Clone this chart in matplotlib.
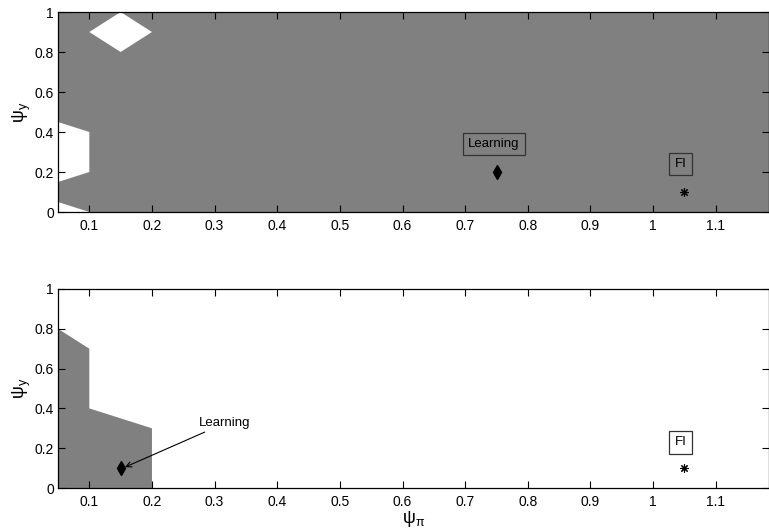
import matplotlib
matplotlib.use("Agg")
import matplotlib.pyplot as plt
from matplotlib.patches import Polygon

plt.rcParams['font.family'] = ['Liberation Sans', 'DejaVu Sans']
plt.rcParams['mathtext.fontset'] = 'custom'
plt.rcParams['mathtext.rm'] = 'Liberation Sans'

# ---------------- data ----------------
x_range = [0.05, 1.185]
y_range = [0.0, 1.0]
x_ticks = [0.1, 0.2, 0.3, 0.4, 0.5, 0.6, 0.7, 0.8, 0.9, 1.0, 1.1]
x_ticklabels = ["0.1", "0.2", "0.3", "0.4", "0.5", "0.6", "0.7", "0.8", "0.9", "1", "1.1"]
y_ticks = [0, 0.2, 0.4, 0.6, 0.8, 1.0]
y_ticklabels = ["0", "0.2", "0.4", "0.6", "0.8", "1"]

# top panel: determinacy region (gray) with indeterminate holes (white)
top_region_x = [0.05, 1.185, 1.185, 0.05]
top_region_y = [0.0, 0.0, 1.0, 1.0]
hole_diamond_x = [0.10, 0.15, 0.20, 0.15]
hole_diamond_y = [0.90, 1.00, 0.90, 0.80]
hole_left_x = [0.05, 0.10, 0.10, 0.05]
hole_left_y = [0.45, 0.40, 0.20, 0.15]
hole_corner_x = [0.05, 0.10, 0.05]
hole_corner_y = [0.05, 0.00, 0.00]

# bottom panel: determinacy region
bot_region_x = [0.05, 0.10, 0.10, 0.20, 0.20, 0.05]
bot_region_y = [0.80, 0.70, 0.40, 0.30, 0.00, 0.00]

# points
learning_top = (0.75, 0.20)
fi_top = (1.05, 0.10)
learning_bot = (0.15, 0.10)
fi_bot = (1.05, 0.10)

gray = "#808080"

fig = plt.figure(figsize=(7.69, 5.31), dpi=100)
ax1 = fig.add_axes([58/769, 1-212/531, 1-58/769, 200/531])
ax2 = fig.add_axes([58/769, 1-488/531, 1-58/769, 199/531])

def style(ax):
    ax.set_xlim(*x_range)
    ax.set_ylim(*y_range)
    ax.set_xticks(x_ticks)
    ax.set_xticklabels(x_ticklabels)
    ax.set_yticks(y_ticks)
    ax.set_yticklabels(y_ticklabels)
    ax.tick_params(direction='in', top=True, right=True, length=5, width=0.8,
                   labelsize=10)
    ax.tick_params(axis='x', pad=5)
    ax.tick_params(axis='y', pad=3)
    for s in ax.spines.values():
        s.set_linewidth(0.9)
    ax.set_ylabel(r'$\mathrm{\psi}_\mathrm{y}$', fontsize=13, labelpad=1)

# top
ax1.add_patch(Polygon(list(zip(top_region_x, top_region_y)), closed=True,
                      facecolor=gray, edgecolor='none'))
for hx, hy in [(hole_diamond_x, hole_diamond_y), (hole_left_x, hole_left_y),
               (hole_corner_x, hole_corner_y)]:
    ax1.add_patch(Polygon(list(zip(hx, hy)), closed=True, facecolor='white',
                          edgecolor='none'))
ax1.plot([learning_top[0]], [learning_top[1]], marker='d', color='black',
         markersize=7, linestyle='none')
ax1.plot([fi_top[0]], [fi_top[1]], marker=(8, 2, 0), color='black',
         markersize=6, linestyle='none', markeredgewidth=0.8)
box = dict(boxstyle='square,pad=0.4', facecolor='none', edgecolor='#333333', lw=0.9)
ax1.text(0.746, 0.34, "Learning", ha='center', va='center', fontsize=9.5, bbox=box)
ax1.text(1.044, 0.24, "FI", ha='center', va='center', fontsize=9.5, bbox=box)
style(ax1)

# bottom
ax2.add_patch(Polygon(list(zip(bot_region_x, bot_region_y)), closed=True,
                      facecolor=gray, edgecolor='none'))
ax2.plot([learning_bot[0]], [learning_bot[1]], marker='d', color='black',
         markersize=7, linestyle='none')
ax2.plot([fi_bot[0]], [fi_bot[1]], marker=(8, 2, 0), color='black',
         markersize=6, linestyle='none', markeredgewidth=0.8)
ax2.annotate("Learning", xy=(0.157, 0.105), xytext=(0.275, 0.325),
             fontsize=9.5, ha='left', va='center',
             arrowprops=dict(arrowstyle='->', color='black', lw=0.8,
                             shrinkA=0, shrinkB=0))
ax2.text(1.044, 0.23, "FI", ha='center', va='center', fontsize=9.5, bbox=box)
style(ax2)
ax2.set_xlabel(r'$\mathrm{\psi}_\mathrm{\pi}$', fontsize=13, labelpad=0)

fig.savefig("out.png", dpi=100)
